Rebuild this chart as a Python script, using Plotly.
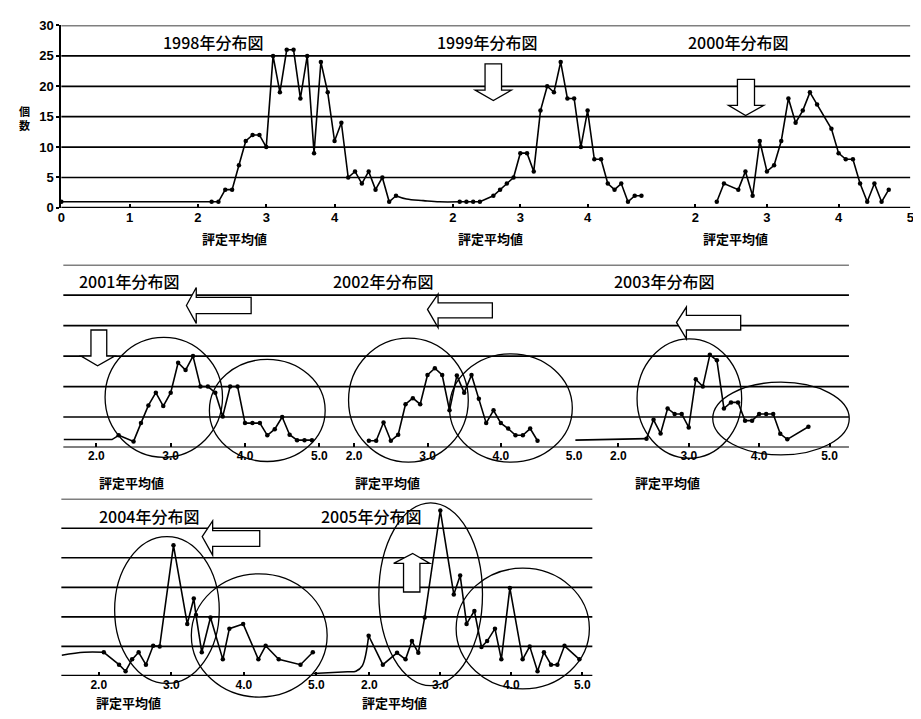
import plotly.graph_objects as go

W, H = 921, 719

# ---------------- data ----------------
years = ["1998", "1999", "2000", "2001", "2002", "2003", "2004", "2005"]
titles = [y + "年分布図" for y in years]
x_title = "評定平均値"
y_title = "個数"

x1998 = [0, 2.2, 2.3, 2.4, 2.5, 2.6, 2.7, 2.8, 2.9, 3.0, 3.1, 3.2, 3.3, 3.4, 3.5, 3.6,
         3.7, 3.8, 3.9, 4.0, 4.1, 4.2, 4.3, 4.4, 4.5, 4.6, 4.7, 4.8, 4.9]
y1998 = [1, 1, 1, 3, 3, 7, 11, 12, 12, 10, 25, 19, 26, 26, 18, 25,
         9, 24, 19, 11, 14, 5, 6, 4, 6, 3, 5, 1, 2]

lead1999_x = [1.15, 1.31, 1.56, 1.8, 2.1]
lead1999_y = [2, 1.45, 1.2, 1.0, 1]
x1999 = [2.1, 2.2, 2.3, 2.4, 2.6, 2.7, 2.8, 2.9, 3.0, 3.1, 3.2, 3.3, 3.4, 3.5,
         3.6, 3.7, 3.8, 3.9, 4.0, 4.1, 4.2, 4.3, 4.4, 4.5, 4.6, 4.7, 4.8]
y1999 = [1, 1, 1, 1, 2, 3, 4, 5, 9, 9, 6, 16, 20, 19,
         24, 18, 18, 10, 16, 8, 8, 4, 3, 4, 1, 2, 2]

x2000 = [2.3, 2.4, 2.6, 2.7, 2.8, 2.9, 3.0, 3.1, 3.2, 3.3, 3.4, 3.5, 3.6, 3.7,
         3.9, 4.0, 4.1, 4.2, 4.3, 4.4, 4.5, 4.6, 4.7]
y2000 = [1, 4, 3, 6, 2, 11, 6, 7, 11, 18, 14, 16, 19, 17,
         13, 9, 8, 8, 4, 1, 4, 1, 3]

lead2001_x = [1.56, 2.21, 2.3]
lead2001_y = [1.3, 1.3, 2.0]
x2001 = [2.3, 2.5, 2.6, 2.7, 2.8, 2.9, 3.0, 3.1, 3.2, 3.3, 3.4, 3.5, 3.6, 3.7,
         3.8, 3.9, 4.0, 4.1, 4.2, 4.3, 4.4, 4.5, 4.6, 4.7, 4.8, 4.9]
y2001 = [2.0, 1.0, 4.0, 6.9, 9.0, 6.8, 9.0, 13.9, 12.7, 15.0, 10.0, 10.0, 9.0, 5.1,
         10.0, 10.0, 4.0, 4.0, 4.0, 2.0, 3.0, 5.0, 2.1, 1.2, 1.2, 1.2]

x2002 = [2.2, 2.3, 2.4, 2.5, 2.6, 2.7, 2.8, 2.9, 3.0, 3.1, 3.2, 3.3, 3.4, 3.5,
         3.6, 3.7, 3.8, 3.9, 4.0, 4.1, 4.2, 4.3, 4.4, 4.5]
y2002 = [1.1, 1.1, 4.1, 1.1, 2.1, 7.1, 8.1, 7.1, 11.9, 13.0, 11.9, 6.1, 11.8, 9.0,
         11.9, 8.0, 4.0, 6.1, 4.0, 3.1, 2.0, 2.0, 3.1, 1.1]

lead2003_x = [1.39, 2.4]
lead2003_y = [1.2, 1.45]
x2003 = [2.4, 2.5, 2.6, 2.7, 2.8, 2.9, 3.0, 3.1, 3.2, 3.3, 3.4, 3.5, 3.6, 3.7,
         3.8, 3.9, 4.0, 4.1, 4.2, 4.3, 4.4, 4.7]
y2003 = [1.45, 4.55, 2.3, 6.4, 5.5, 5.5, 3.3, 11.2, 10.0, 15.2, 14.3, 6.4, 7.4, 7.4,
         4.4, 4.4, 5.5, 5.5, 5.5, 2.25, 1.34, 3.4]

lead2004_x = [1.49, 1.80, 2.07]
lead2004_y = [3.5, 4.0, 4.0]
x2004 = [2.07, 2.28, 2.37, 2.46, 2.55, 2.65, 2.75, 2.84, 3.03, 3.22, 3.31, 3.34,
         3.42, 3.54, 3.71, 3.80, 3.99, 4.20, 4.30, 4.48, 4.78, 4.95]
y2004 = [4.0, 1.9, 0.8, 2.8, 4.0, 1.9, 5.1, 5.0, 22.1, 8.8, 13.1, 10.3,
         4.0, 9.9, 2.8, 8.0, 8.8, 2.8, 5.1, 2.8, 1.9, 4.0]

lead2005_x = [1.21, 1.69, 1.81, 1.9, 1.99]
lead2005_y = [0.4, 0.7, 0.8, 1.7, 6.8]
x2005 = [1.99, 2.19, 2.39, 2.51, 2.60, 2.69, 2.78, 3.00, 3.19, 3.28, 3.37, 3.48, 3.58,
         3.66, 3.77, 3.86, 3.98, 4.16, 4.26, 4.37, 4.46, 4.56, 4.65, 4.75, 4.96]
y2005 = [6.8, 1.9, 3.9, 2.8, 5.9, 3.9, 9.9, 28.0, 13.8, 17.0, 8.8, 11.0, 4.9,
         5.9, 8.0, 2.8, 14.9, 2.8, 5.0, 0.8, 4.0, 1.9, 1.9, 5.1, 2.8]

y_ticks = [0, 5, 10, 15, 20, 25, 30]
top_ticks_98 = [0, 1, 2, 3, 4]
top_ticks_99 = [2, 3, 4]
top_ticks_00 = [2, 3, 4, 5]
low_ticks = [2, 3, 4, 5]
low_ticktext = ["2.0", "3.0", "4.0", "5.0"]

# ---------------- helpers ----------------
def PX(v):
    return v / W


def PY(v):
    return 1 - v / H


BLACK = "black"
TICKFONT_TOP = dict(family="Liberation Sans", size=13, color=BLACK, weight="bold")
TICKFONT_LOW = dict(family="Liberation Sans", size=12, color=BLACK, weight="bold")
CJK = "Noto Sans CJK JP"

fig = go.Figure()


def xaxis_cfg(p0, p1, pref, xref, scale, anchor, tickvals, ticktext, font):
    r0 = xref + (p0 - pref) / scale
    r1 = xref + (p1 - pref) / scale
    return dict(domain=[PX(p0), PX(p1)], range=[r0, r1], anchor=anchor,
                showgrid=False, zeroline=False, showline=False,
                tickmode="array", tickvals=tickvals, ticktext=ticktext,
                ticks="inside", ticklen=4, tickwidth=1.5, tickcolor=BLACK,
                tickfont=font, fixedrange=True)


def add_series(x, y, xa, ya, markers=True, shape="linear"):
    fig.add_trace(go.Scatter(
        x=x, y=y, xaxis=xa, yaxis=ya,
        mode="lines+markers" if markers else "lines",
        line=dict(color=BLACK, width=1.6, shape=shape),
        marker=dict(color=BLACK, size=4.5),
        cliponaxis=False, showlegend=False, hoverinfo="skip"))


# ---------------- traces ----------------
add_series(x1998, y1998, "x", "y")
add_series(lead1999_x, lead1999_y, "x2", "y", markers=False, shape="spline")
add_series(x1999, y1999, "x2", "y")
add_series(x2000, y2000, "x3", "y")

add_series(lead2001_x, lead2001_y, "x4", "y2", markers=False)
add_series(x2001, y2001, "x4", "y2")
add_series(x2002, y2002, "x5", "y2")
add_series(lead2003_x, lead2003_y, "x6", "y2", markers=False)
add_series(x2003, y2003, "x6", "y2")

add_series(lead2004_x, lead2004_y, "x7", "y3", markers=False, shape="spline")
add_series(x2004, y2004, "x7", "y3")
add_series(lead2005_x, lead2005_y, "x8", "y3", markers=False, shape="spline")
add_series(x2005, y2005, "x8", "y3")

# ---------------- axes ----------------
layout = dict(
    width=W, height=H, autosize=False,
    margin=dict(l=0, r=0, t=0, b=0),
    paper_bgcolor="white", plot_bgcolor="rgba(0,0,0,0)",
    showlegend=False,
)

layout["xaxis"] = xaxis_cfg(50, 392.5, 50, 0, 69.2, "y", top_ticks_98,
                            [str(v) for v in top_ticks_98], TICKFONT_TOP)
layout["xaxis2"] = xaxis_cfg(385, 665, 515, 3, 68.2, "y", top_ticks_99,
                             [str(v) for v in top_ticks_99], TICKFONT_TOP)
layout["xaxis3"] = xaxis_cfg(665, 910.2, 692.3, 2, 72.6, "y", top_ticks_00,
                             [str(v) for v in top_ticks_00], TICKFONT_TOP)

layout["xaxis4"] = xaxis_cfg(52, 330, 85.5, 2, 75.3, "y2", low_ticks, low_ticktext, TICKFONT_LOW)
layout["xaxis5"] = xaxis_cfg(328, 570, 346.7, 2, 74.3, "y2", low_ticks, low_ticktext, TICKFONT_LOW)
layout["xaxis6"] = xaxis_cfg(570, 848, 685.67, 3, 71.33, "y2", low_ticks, low_ticktext, TICKFONT_LOW)

layout["xaxis7"] = xaxis_cfg(50, 310, 198.17, 3.5, 73.53, "y3", low_ticks, low_ticktext, TICKFONT_LOW)
layout["xaxis8"] = xaxis_cfg(303, 588, 469.92, 3.5, 71.9, "y3", low_ticks, low_ticktext, TICKFONT_LOW)

layout["yaxis"] = dict(domain=[PY(197), PY(10.7)], range=[0, 30], anchor="x",
                       tickmode="array", tickvals=y_ticks,
                       ticks="outside", ticklen=3, tickwidth=1.5, tickcolor=BLACK,
                       showline=True, linewidth=2, linecolor=BLACK,
                       showgrid=False, zeroline=False, tickfont=TICKFONT_TOP, fixedrange=True)
layout["yaxis2"] = dict(domain=[PY(441.7), PY(255)], range=[0, 30], anchor="x4",
                        visible=False, fixedrange=True)
layout["yaxis3"] = dict(domain=[PY(675), PY(494)], range=[0, 30], anchor="x7",
                        visible=False, fixedrange=True)

# ---------------- shapes ----------------
shapes = []
rows = [("y", 50, 910), ("y2", 52, 848), ("y3", 50, 588)]
for yref, a, b in rows:
    for v in y_ticks:
        shapes.append(dict(type="line", xref="paper", yref=yref,
                           x0=PX(a), x1=PX(b), y0=v, y1=v, layer="below",
                           line=dict(color=BLACK, width=2.2 if v == 0 else 1.7)))

ellipses = [
    (94.3, 213.3, 329.3, 451.7), (200, 317.3, 351.7, 456),
    (341, 462.3, 330, 456.7), (443.3, 567.7, 346, 456.7),
    (633.3, 739.3, 330.7, 452.7), (710, 848.3, 375, 449.3),
    (104, 210, 532.7, 682.7), (181.7, 319.3, 570.7, 696.7),
    (371.7, 476.7, 498.3, 685), (450, 585, 565, 688.3),
]
for x0, x1, y0, y1 in ellipses:
    shapes.append(dict(type="circle", xref="paper", yref="paper",
                       x0=PX(x0), x1=PX(x1), y0=PY(y1), y1=PY(y0),
                       line=dict(color=BLACK, width=1.3)))


def down_arrow(sx0, sx1, top, hy, hx0, hx1, tip):
    return [(sx0, top), (sx1, top), (sx1, hy), (hx1, hy), tip, (hx0, hy), (sx0, hy)]


def left_arrow(tip, hx, hy0, hy1, sy0, sy1, right):
    return [tip, (hx, hy0), (hx, sy0), (right, sy0), (right, sy1), (hx, sy1), (hx, hy1)]


def up_arrow(tip, hy, hx0, hx1, sx0, sx1, bottom):
    return [tip, (hx1, hy), (sx1, hy), (sx1, bottom), (sx0, bottom), (sx0, hy), (hx0, hy)]


arrows = [
    down_arrow(479.3, 496, 50, 76.7, 469.3, 506, (487.7, 87.3)),
    down_arrow(735, 752.3, 65.7, 92.3, 726, 761.7, (743.3, 102.7)),
    down_arrow(80, 96, 321.7, 348.3, 70, 104, (86.7, 358.3)),
    left_arrow((176.7, 296.7), 186.7, 278.3, 315, 288.3, 305, 242.3),
    left_arrow((421, 300.7), 431.7, 285, 319.3, 294, 309.3, 486.7),
    left_arrow((673.3, 314), 683.3, 298.3, 330.7, 306.7, 321.7, 738.3),
    left_arrow((192.7, 532.7), 203.3, 516.7, 551.7, 526.7, 542.7, 251),
    up_arrow((406, 550), 560, 386.7, 423.3, 396.7, 413.3, 589.3),
]
for pts in arrows:
    path = "M " + " L ".join(f"{PX(x):.5f},{PY(y):.5f}" for x, y in pts) + " Z"
    shapes.append(dict(type="path", xref="paper", yref="paper", path=path,
                       fillcolor="white", line=dict(color=BLACK, width=1.3)))

layout["shapes"] = shapes

# ---------------- annotations ----------------
ann = []
title_pos = [(204, 28), (481, 28), (735.5, 28), (118.5, 272), (375.5, 272),
             (660.5, 272), (139, 512), (364, 512)]
for t, (x, y) in zip(titles, title_pos):
    ann.append(dict(text=t, x=PX(x), y=PY(y), xref="paper", yref="paper",
                    xanchor="center", yanchor="middle", showarrow=False,
                    font=dict(family=CJK, size=16, color=BLACK, weight=500)))

xt_pos = [(225, 228), (485, 228), (733, 228), (121, 477), (380, 477),
          (663.7, 477), (118, 702), (388, 702)]
for x, y in xt_pos:
    ann.append(dict(text=x_title, x=PX(x), y=PY(y), xref="paper", yref="paper",
                    xanchor="center", yanchor="middle", showarrow=False,
                    font=dict(family=CJK, size=13, color=BLACK, weight="bold")))

ann.append(dict(text="<br>".join(list(y_title)), x=PX(12.5), y=PY(105), xref="paper", yref="paper",
                xanchor="center", yanchor="middle", showarrow=False,
                font=dict(family=CJK, size=11, color=BLACK, weight="bold")))
layout["annotations"] = ann

fig.update_layout(**layout)
fig.write_html("out.html")
